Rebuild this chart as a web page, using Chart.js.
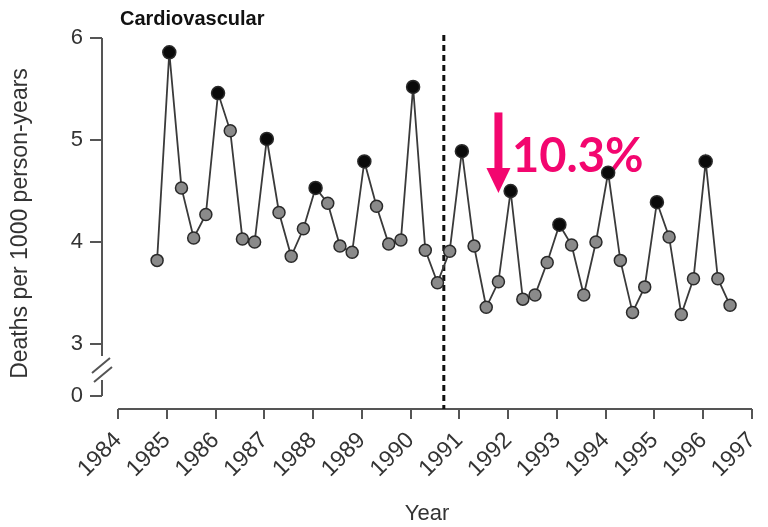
<!DOCTYPE html>
<html>
<head>
<meta charset="utf-8">
<script src="https://cdn.jsdelivr.net/npm/chart.js@4.4.1/dist/chart.umd.min.js"></script>
<style>
  html, body { margin: 0; padding: 0; background: #fff; }
  #wrap { width: 768px; height: 527px; }
</style>
</head>
<body>
<div id="wrap"><canvas id="cvd-chart"></canvas></div>
<script>
// quarterly cardiovascular deaths per 1000 person-years
var quarters = [
  '1984 Q4',
  '1985 Q1', '1985 Q2', '1985 Q3', '1985 Q4',
  '1986 Q1', '1986 Q2', '1986 Q3', '1986 Q4',
  '1987 Q1', '1987 Q2', '1987 Q3', '1987 Q4',
  '1988 Q1', '1988 Q2', '1988 Q3', '1988 Q4',
  '1989 Q1', '1989 Q2', '1989 Q3', '1989 Q4',
  '1990 Q1', '1990 Q2', '1990 Q3', '1990 Q4',
  '1991 Q1', '1991 Q2', '1991 Q3', '1991 Q4',
  '1992 Q1', '1992 Q2', '1992 Q3', '1992 Q4',
  '1993 Q1', '1993 Q2', '1993 Q3', '1993 Q4',
  '1994 Q1', '1994 Q2', '1994 Q3', '1994 Q4',
  '1995 Q1', '1995 Q2', '1995 Q3', '1995 Q4',
  '1996 Q1', '1996 Q2', '1996 Q3'
];
var deathRates = [
  3.82,
  5.86, 4.53, 4.04, 4.27,
  5.46, 5.09, 4.03, 4.00,
  5.01, 4.29, 3.86, 4.13,
  4.53, 4.38, 3.96, 3.90,
  4.79, 4.35, 3.98, 4.02,
  5.52, 3.92, 3.60, 3.91,
  4.89, 3.96, 3.36, 3.61,
  4.50, 3.44, 3.48, 3.80,
  4.17, 3.97, 3.48, 4.00,
  4.68, 3.82, 3.31, 3.56,
  4.39, 4.05, 3.29, 3.64,
  4.79, 3.64, 3.38
];
var yearTicks = [1984, 1985, 1986, 1987, 1988, 1989, 1990, 1991, 1992, 1993, 1994, 1995, 1996, 1997];
var rateTicks = [0, 3, 4, 5, 6];
var interventionYear = 1990.68;
var changeLabel = '10.3%';

var ZERO_AT = 2.49;   // "0" sits just under the axis break
var FONT = '"Liberation Sans", Arial, Helvetica, sans-serif';
var PINK = '#f3066f';

Chart.defaults.font.family = FONT;

var points = quarters.map(function (q, i) {
  var p = q.split(' Q');
  return { x: +p[0] + (p[1] - 1) / 4 + 0.05, y: deathRates[i] };
});
var winter = quarters.map(function (q) { return q.slice(-2) === 'Q1'; });

var decorations = {
  id: 'decorations',
  beforeDatasetsDraw: function (chart) {
    var ctx = chart.ctx, xs = chart.scales.x, ys = chart.scales.y;
    var area = chart.chartArea;
    ctx.save();

    // panel title
    ctx.fillStyle = '#111';
    ctx.font = 'bold 20px ' + FONT;
    ctx.textBaseline = 'alphabetic';
    ctx.fillText('Cardiovascular', 120, 25);

    // y axis with a break between 3 and 0
    var ax = area.left, y3 = ys.getPixelForValue(3), y0 = ys.getPixelForValue(ZERO_AT);
    ctx.strokeStyle = '#555';
    ctx.lineWidth = 2;
    ctx.beginPath();
    ctx.moveTo(ax, ys.getPixelForValue(6));
    ctx.lineTo(ax, y3 + 12);
    ctx.moveTo(ax, y3 + 36);
    ctx.lineTo(ax, y0);
    ctx.moveTo(ax - 10, y3 + 29);
    ctx.lineTo(ax + 8, y3 + 14);
    ctx.moveTo(ax - 8, y3 + 38);
    ctx.lineTo(ax + 10, y3 + 23);
    // x axis, detached from the y axis
    ctx.moveTo(xs.getPixelForValue(yearTicks[0]), area.bottom);
    ctx.lineTo(xs.getPixelForValue(yearTicks[yearTicks.length - 1]), area.bottom);
    ctx.stroke();

    // start of the intervention
    var dx = xs.getPixelForValue(interventionYear);
    ctx.strokeStyle = '#111';
    ctx.lineWidth = 3;
    ctx.setLineDash([6, 4]);
    ctx.beginPath();
    ctx.moveTo(dx, 35);
    ctx.lineTo(dx, area.bottom);
    ctx.stroke();
    ctx.setLineDash([]);

    // downward arrow and percentage drop
    var arX = xs.getPixelForValue(1991.8);
    var arTop = ys.getPixelForValue(5.27), arTip = ys.getPixelForValue(4.48);
    ctx.fillStyle = PINK;
    ctx.fillRect(arX - 4, arTop, 8, arTip - arTop - 22);
    ctx.beginPath();
    ctx.moveTo(arX - 12, arTip - 25);
    ctx.lineTo(arX + 12, arTip - 25);
    ctx.lineTo(arX, arTip);
    ctx.closePath();
    ctx.fill();
    ctx.font = 'bold 47px Lato, "Open Sans", sans-serif';
    ctx.fillText(changeLabel, xs.getPixelForValue(1992.08), ys.getPixelForValue(4.69));

    ctx.restore();
  }
};

new Chart(document.getElementById('cvd-chart'), {
  type: 'line',
  data: {
    datasets: [{
      label: 'Cardiovascular',
      data: points,
      borderColor: '#3a3a3a',
      borderWidth: 1.8,
      tension: 0,
      pointRadius: function (c) { return winter[c.dataIndex] ? 6.5 : 6; },
      pointBackgroundColor: function (c) { return winter[c.dataIndex] ? '#0a0a0a' : '#8a8a8a'; },
      pointBorderColor: '#2a2a2a',
      pointBorderWidth: 1.5
    }]
  },
  options: {
    responsive: true,
    maintainAspectRatio: false,
    animation: false,
    layout: { padding: { top: 38, right: 16, left: 0, bottom: 0 } },
    plugins: {
      legend: { display: false },
      tooltip: { enabled: false }
    },
    scales: {
      x: {
        type: 'linear',
        min: 1983.67,
        max: 1997,
        afterBuildTicks: function (s) { s.ticks = yearTicks.map(function (v) { return { value: v }; }); },
        afterFit: function (s) { s.height = 118; s.paddingLeft = 0; s.paddingRight = 0; },
        border: { display: false },
        grid: { drawOnChartArea: false, drawTicks: true, tickLength: 10, color: '#555', lineWidth: 2 },
        ticks: {
          autoSkip: false,
          minRotation: 45,
          maxRotation: 45,
          padding: 8,
          color: '#333',
          font: { size: 23 },
          callback: function (v) { return String(v); }
        },
        title: { display: true, text: 'Year', color: '#333', font: { size: 22 }, padding: { top: 0, bottom: 0 } }
      },
      y: {
        min: 2.363,
        max: 6,
        afterBuildTicks: function (s) {
          s.ticks = rateTicks.map(function (v) { return { value: v === 0 ? ZERO_AT : v }; });
        },
        afterFit: function (s) { s.width = 102; s.paddingTop = 0; s.paddingBottom = 0; },
        border: { display: false },
        grid: { drawOnChartArea: false, drawTicks: true, tickLength: 12, color: '#555', lineWidth: 2 },
        ticks: {
          padding: 7,
          color: '#333',
          font: { size: 22 },
          callback: function (v) { return v === ZERO_AT ? '0' : String(v); }
        },
        title: {
          display: true,
          text: 'Deaths per 1000 person-years',
          color: '#333',
          font: { size: 23 },
          padding: { top: 7, bottom: 0 }
        }
      }
    }
  },
  plugins: [decorations]
});
</script>
</body>
</html>
